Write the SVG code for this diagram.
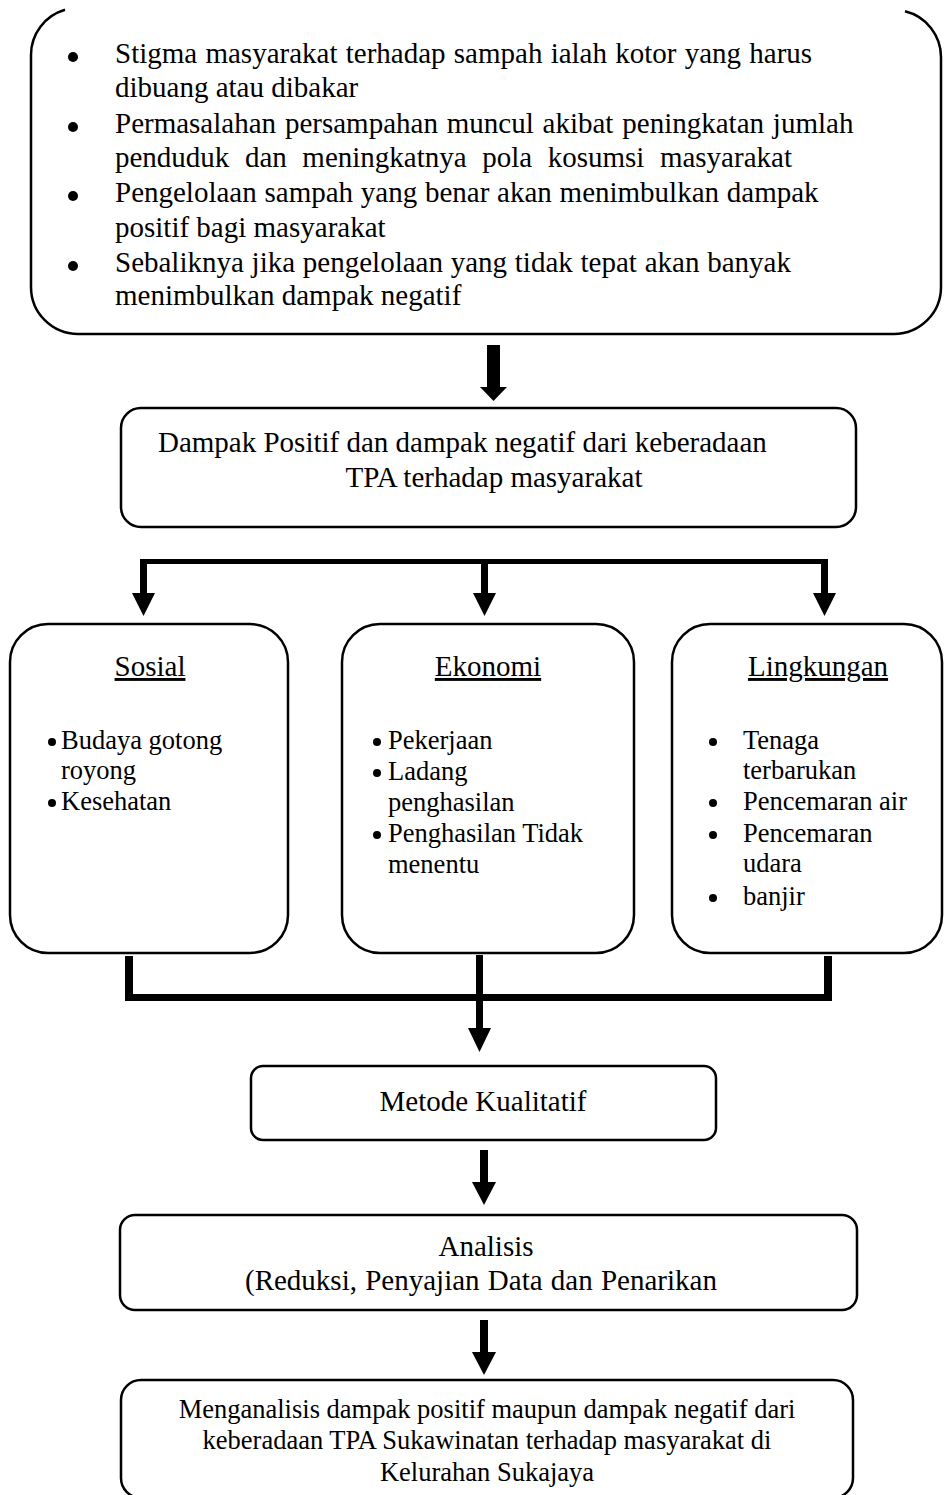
<svg xmlns="http://www.w3.org/2000/svg" width="952" height="1495" viewBox="0 0 952 1495">
  <style>
    .box { fill: #ffffff; stroke: #000000; stroke-width: 2.5; }
    .t { font-family: "Liberation Serif", "Times New Roman", serif; font-size: 29px; fill: #000000; }
    .h { font-family: "Liberation Serif", "Times New Roman", serif; font-size: 29px; fill: #000000; text-decoration: underline; }
    .s { font-family: "Liberation Serif", "Times New Roman", serif; font-size: 26.5px; fill: #000000; }
    .c { text-anchor: middle; }
    .dot { fill: #000000; }
    .bar { fill: #000000; }
  </style>

  <rect x="0" y="0" width="952" height="1495" fill="#ffffff"/>

  <!-- Background statement box (top edge runs off the page) -->
  <g id="latar">
    <path class="box" fill="none" stroke-width="3" d="M 65 9.8 A 47 47 0 0 0 31 55 L 31 287 A 47 47 0 0 0 78 334 L 894 334 A 47 47 0 0 0 941 287 L 941 57 A 47 47 0 0 0 905 11.3"/>
    <circle class="dot" cx="73" cy="57" r="5"/>
    <circle class="dot" cx="73" cy="127" r="5"/>
    <circle class="dot" cx="73" cy="196" r="5"/>
    <circle class="dot" cx="73" cy="266" r="5"/>
    <text class="t" x="115" y="63" word-spacing="1">Stigma masyarakat terhadap sampah ialah kotor yang harus</text>
    <text class="t" x="115" y="97">dibuang atau dibakar</text>
    <text class="t" x="115" y="133" word-spacing="1.6">Permasalahan persampahan muncul akibat peningkatan jumlah</text>
    <text class="t" x="115" y="167" word-spacing="8.3">penduduk dan meningkatnya pola kosumsi masyarakat</text>
    <text class="t" x="115" y="202" word-spacing="0.5">Pengelolaan sampah yang benar akan menimbulkan dampak</text>
    <text class="t" x="115" y="237">positif bagi masyarakat</text>
    <text class="t" x="115" y="272" word-spacing="0.5">Sebaliknya jika pengelolaan yang tidak tepat akan banyak</text>
    <text class="t" x="115" y="305">menimbulkan dampak negatif</text>
  </g>

  <g id="dampak">
    <rect class="box" x="121" y="408" width="735" height="119" rx="20"/>
    <text class="t" x="158" y="452">Dampak Positif dan dampak negatif dari keberadaan</text>
    <text class="t c" x="494" y="487" font-size="27">TPA terhadap masyarakat</text>
  </g>

  <g id="sosial">
    <rect class="box" x="10" y="624" width="278" height="329" rx="38"/>
    <text class="h c" x="150" y="676">Sosial</text>
    <circle class="dot" cx="52" cy="742" r="4"/>
    <circle class="dot" cx="52" cy="803" r="4"/>
    <text class="s" x="61" y="749">Budaya gotong</text>
    <text class="s" x="61" y="779">royong</text>
    <text class="s" x="61" y="810">Kesehatan</text>
  </g>

  <g id="ekonomi">
    <rect class="box" x="342" y="624" width="292" height="329" rx="38"/>
    <text class="h c" x="488" y="676">Ekonomi</text>
    <circle class="dot" cx="377" cy="742" r="4"/>
    <circle class="dot" cx="377" cy="773" r="4"/>
    <circle class="dot" cx="377" cy="835" r="4"/>
    <text class="s" x="388" y="749">Pekerjaan</text>
    <text class="s" x="388" y="780">Ladang</text>
    <text class="s" x="388" y="811">penghasilan</text>
    <text class="s" x="388" y="842">Penghasilan Tidak</text>
    <text class="s" x="388" y="873">menentu</text>
  </g>

  <g id="lingkungan">
    <rect class="box" x="672" y="624" width="270" height="329" rx="38"/>
    <text class="h c" x="818" y="676">Lingkungan</text>
    <circle class="dot" cx="713" cy="742" r="4"/>
    <circle class="dot" cx="713" cy="803" r="4"/>
    <circle class="dot" cx="713" cy="835" r="4"/>
    <circle class="dot" cx="713" cy="898" r="4"/>
    <text class="s" x="743" y="749">Tenaga</text>
    <text class="s" x="743" y="779">terbarukan</text>
    <text class="s" x="743" y="810">Pencemaran air</text>
    <text class="s" x="743" y="842">Pencemaran</text>
    <text class="s" x="743" y="872">udara</text>
    <text class="s" x="743" y="905">banjir</text>
  </g>

  <g id="metode">
    <rect class="box" x="251" y="1066" width="465" height="74" rx="12"/>
    <text class="t c" x="483" y="1111">Metode Kualitatif</text>
  </g>

  <g id="analisis">
    <rect class="box" x="120" y="1215" width="737" height="95" rx="15"/>
    <text class="t c" x="486" y="1256">Analisis</text>
    <text class="t" x="245" y="1290" word-spacing="1">(Reduksi, Penyajian Data dan Penarikan</text>
  </g>

  <g id="hasil">
    <rect class="box" x="121" y="1380" width="732" height="118" rx="20"/>
    <text class="s c" x="487" y="1418">Menganalisis dampak positif maupun dampak negatif dari</text>
    <text class="s c" x="487" y="1449">keberadaan TPA Sukawinatan terhadap masyarakat di</text>
    <text class="s c" x="487" y="1481">Kelurahan Sukajaya</text>
  </g>

  <!-- Connectors: thick block arrows -->
  <g id="connectors">
    <rect class="bar" x="487" y="345" width="13" height="43"/>
    <polygon class="bar" points="480,387 507,387 493.5,401"/>

    <rect class="bar" x="140" y="559" width="688" height="5"/>
    <rect class="bar" x="140" y="559" width="7" height="35"/>
    <polygon class="bar" points="132,593 155,593 143.5,616"/>
    <rect class="bar" x="481" y="559" width="7" height="35"/>
    <polygon class="bar" points="473,593 496,593 484.5,616"/>
    <rect class="bar" x="821" y="559" width="7" height="35"/>
    <polygon class="bar" points="813,593 836,593 824.5,616"/>

    <rect class="bar" x="125" y="956" width="8" height="45"/>
    <rect class="bar" x="824" y="956" width="8" height="45"/>
    <rect class="bar" x="125" y="994" width="707" height="7"/>
    <rect class="bar" x="476" y="955" width="7" height="74"/>
    <polygon class="bar" points="468,1028 491,1028 479.5,1052"/>

    <rect class="bar" x="480" y="1150" width="8" height="33"/>
    <polygon class="bar" points="472,1182 496,1182 484,1205"/>

    <rect class="bar" x="480" y="1320" width="8" height="33"/>
    <polygon class="bar" points="472,1352 496,1352 484,1375"/>
  </g>
</svg>
